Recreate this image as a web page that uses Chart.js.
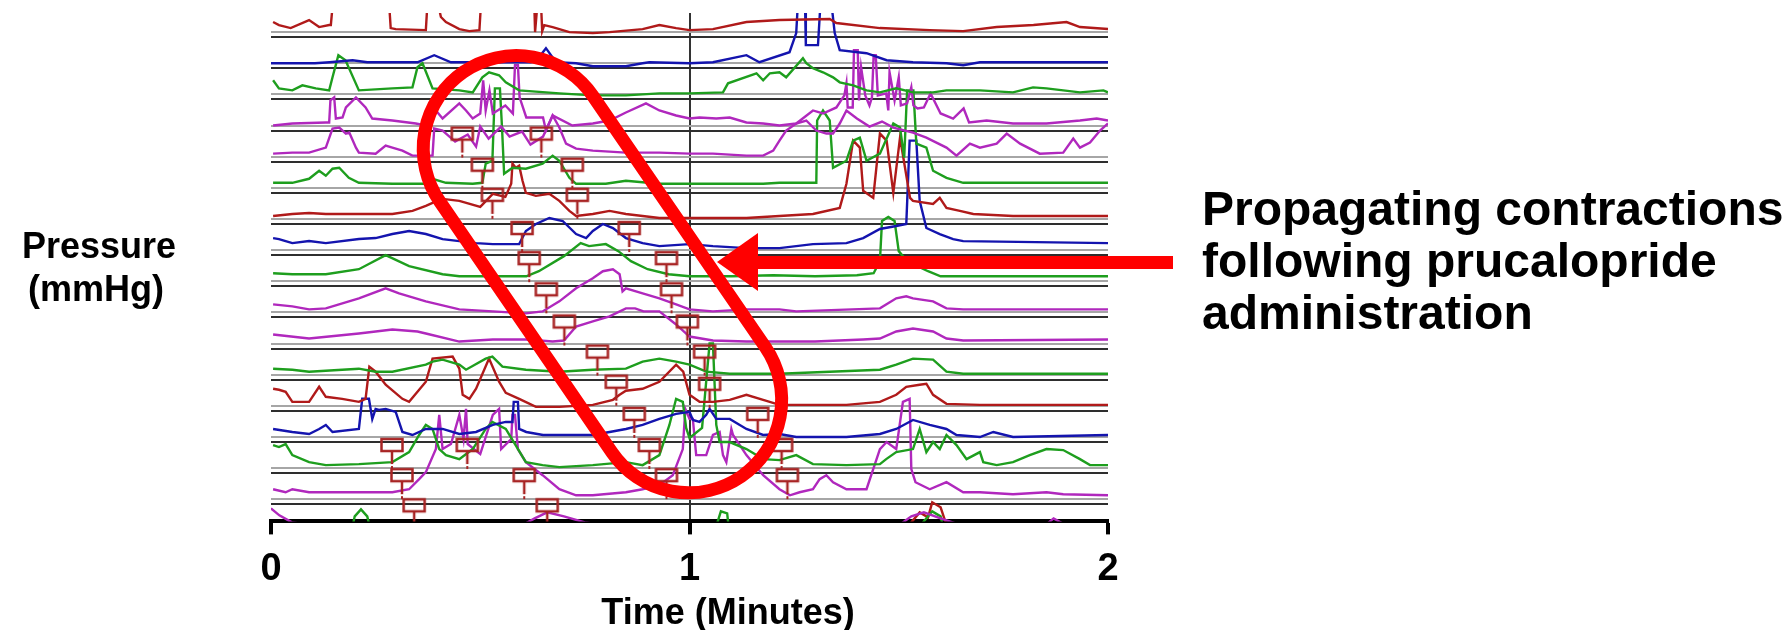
<!DOCTYPE html>
<html>
<head>
<meta charset="utf-8">
<script src="https://cdn.jsdelivr.net/npm/chart.js@4/dist/chart.umd.min.js"></script>
<style>
	html, body { margin: 0; padding: 0; background: #ffffff; }
	canvas { display: block; }
</style>
</head>
<body>
<canvas id="hrm-chart" width="1785" height="630"></canvas>
<script>
/* Tick labels of the time axis (minutes). */
const timeTicks = [0, 1, 2];

/* Pressure traces, one per sensor, as [minutes, mmHg above the sensor baseline]. */
const trace01 = [[0.005,10],[0.019,7],[0.047,4],[0.091,12],[0.115,5],[0.139,7],[0.143,7],[0.148,30],[0.282,30],[0.286,4],[0.298,3],[0.370,2],[0.374,30],[0.398,30],[0.406,15],[0.418,10],[0.45,3],[0.474,1],[0.498,2],[0.502,30],[0.629,30],[0.631,0],[0.637,30],[0.645,30],[0.648,1],[0.653,7],[0.673,5],[0.713,0],[0.769,-1],[0.809,0],[0.888,3],[0.928,7],[0.968,4],[1.0,2],[1.056,3],[1.136,10],[1.215,12],[1.335,13],[1.351,9],[1.455,4],[1.574,2],[1.654,1],[1.734,5],[1.822,7],[1.901,10],[1.933,5],[2.0,3]];
const trace02 = [[0,0],[0.105,0],[0.14,1],[0.195,3],[0.23,1],[0.35,1],[0.39,8],[0.43,1],[0.62,1],[0.633,2],[0.657,15],[0.681,1],[0.729,0],[0.769,-3],[0.848,-3],[0.888,0],[0.904,1],[1.0,0],[1.056,1],[1.136,8],[1.167,1],[1.239,11],[1.255,30],[1.259,60],[1.276,60],[1.278,18],[1.307,18],[1.313,60],[1.339,60],[1.347,30],[1.359,13],[1.423,10],[1.471,3],[1.534,1],[1.614,0],[1.654,-2],[1.694,1],[2.0,1]];
const trace03 = [[0.005,14],[0.019,6],[0.051,4],[0.075,9],[0.107,6],[0.139,4],[0.147,17],[0.161,39],[0.178,34],[0.21,4],[0.29,6],[0.338,7],[0.35,27],[0.362,31],[0.386,6],[0.45,4],[0.482,2],[0.505,17],[0.521,22],[0.545,19],[0.561,12],[0.593,4],[0.689,1],[0.769,-1],[0.848,-1],[0.928,1],[1.0,1],[1.08,2],[1.092,11],[1.16,21],[1.176,14],[1.192,21],[1.215,22],[1.231,17],[1.271,36],[1.279,31],[1.295,26],[1.319,22],[1.343,17],[1.359,12],[1.391,9],[1.423,4],[1.455,2],[1.494,6],[1.534,2],[1.582,2],[1.614,4],[1.694,4],[1.773,2],[1.821,7],[1.853,6],[1.933,2],[1.989,4],[2.0,2]];
const trace04 = [[0.005,0],[0.051,2],[0.131,3],[0.139,3],[0.142,25],[0.151,28],[0.155,7],[0.171,8],[0.179,18],[0.203,28],[0.226,18],[0.242,7],[0.29,5],[0.346,2],[0.37,0],[0.394,15],[0.41,7],[0.45,22],[0.466,15],[0.482,7],[0.5,12],[0.507,45],[0.513,15],[0.522,35],[0.53,12],[0.56,20],[0.578,12],[0.583,60],[0.59,60],[0.594,28],[0.61,8],[0.65,8],[0.657,-5],[0.673,10],[0.72,0],[0.769,2],[0.809,5],[0.848,13],[0.896,22],[0.928,15],[0.968,10],[1.0,7],[1.024,8],[1.064,7],[1.096,8],[1.136,3],[1.176,2],[1.215,0],[1.255,2],[1.295,15],[1.319,12],[1.351,18],[1.37,30],[1.375,42],[1.378,18],[1.39,18],[1.393,75],[1.402,75],[1.405,25],[1.41,58],[1.42,30],[1.43,20],[1.436,28],[1.44,70],[1.445,70],[1.45,30],[1.47,32],[1.475,15],[1.478,53],[1.49,25],[1.5,48],[1.505,20],[1.52,22],[1.53,38],[1.535,20],[1.545,17],[1.56,18],[1.576,32],[1.6,12],[1.63,7],[1.655,17],[1.668,3],[1.71,5],[1.773,2],[1.853,2],[1.933,5],[1.973,7],[2.0,5]];
const trace05 = [[0.005,3],[0.051,4],[0.091,4],[0.131,9],[0.147,28],[0.163,29],[0.179,23],[0.187,24],[0.203,9],[0.21,4],[0.25,3],[0.274,11],[0.29,9],[0.314,6],[0.338,1],[0.386,1],[0.39,28],[0.41,26],[0.44,15],[0.47,22],[0.49,10],[0.5,30],[0.52,18],[0.55,30],[0.57,20],[0.6,25],[0.62,12],[0.65,20],[0.673,41],[0.689,29],[0.705,13],[0.729,8],[0.769,6],[0.848,4],[0.928,4],[1.0,3],[1.056,3],[1.136,1],[1.176,1],[1.2,6],[1.215,16],[1.231,26],[1.255,33],[1.279,36],[1.303,26],[1.327,23],[1.343,23],[1.359,33],[1.375,46],[1.4,38],[1.43,30],[1.46,35],[1.487,29],[1.534,24],[1.566,19],[1.614,9],[1.638,1],[1.67,13],[1.694,9],[1.734,13],[1.758,23],[1.79,13],[1.837,3],[1.893,4],[1.917,18],[1.933,9],[1.957,14],[1.981,26],[2.0,33]];
const trace06 = [[0.005,5],[0.051,5],[0.091,9],[0.115,17],[0.131,12],[0.147,19],[0.163,20],[0.186,10],[0.21,5],[0.29,4],[0.37,4],[0.386,9],[0.418,5],[0.482,4],[0.505,5],[0.513,24],[0.529,27],[0.535,99],[0.547,99],[0.552,60],[0.557,14],[0.577,20],[0.609,19],[0.649,24],[0.673,32],[0.689,27],[0.713,10],[0.729,4],[0.8,4],[0.848,7],[0.928,4],[1.0,4],[1.056,4],[1.176,4],[1.215,5],[1.303,5],[1.305,67],[1.319,77],[1.335,67],[1.343,20],[1.375,27],[1.391,47],[1.407,50],[1.423,27],[1.455,34],[1.487,64],[1.503,60],[1.513,30],[1.52,97],[1.535,97],[1.542,44],[1.566,40],[1.582,17],[1.614,10],[1.654,5],[2.0,5]];
const trace07 = [[0.005,3],[0.051,5],[0.091,6],[0.131,5],[0.21,5],[0.29,5],[0.338,8],[0.37,13],[0.386,16],[0.41,20],[0.45,18],[0.5,12],[0.53,25],[0.56,22],[0.574,35],[0.577,55],[0.585,51],[0.593,53],[0.601,38],[0.609,26],[0.633,23],[0.665,25],[0.689,18],[0.713,8],[0.729,3],[0.769,5],[0.809,8],[0.848,5],[0.928,1],[1.0,1],[1.136,1],[1.215,3],[1.295,5],[1.359,11],[1.375,35],[1.391,78],[1.407,71],[1.415,28],[1.439,21],[1.455,85],[1.471,78],[1.487,26],[1.503,81],[1.511,61],[1.527,21],[1.534,18],[1.582,15],[1.598,21],[1.614,11],[1.646,8],[1.678,5],[1.773,3],[2.0,3]];
const trace08 = [[0.005,12],[0.019,11],[0.035,9],[0.051,7],[0.091,9],[0.131,7],[0.21,11],[0.25,12],[0.29,16],[0.33,19],[0.37,16],[0.41,11],[0.49,7],[0.53,6],[0.593,6],[0.609,19],[0.633,26],[0.665,32],[0.697,29],[0.729,16],[0.753,12],[0.769,19],[0.793,26],[0.817,22],[0.848,12],[0.888,7],[0.928,4],[1.0,6],[1.056,4],[1.136,2],[1.215,2],[1.295,6],[1.375,7],[1.415,12],[1.455,21],[1.494,24],[1.518,26],[1.526,109],[1.542,109],[1.55,49],[1.566,22],[1.598,16],[1.63,11],[1.654,9],[2.0,7]];
const trace09 = [[0.005,8],[0.051,7],[0.131,7],[0.21,12],[0.274,26],[0.33,15],[0.41,7],[0.45,5],[0.61,5],[0.64,10],[0.7,25],[0.74,38],[0.76,35],[0.8,37],[0.83,30],[0.86,20],[0.9,12],[0.95,7],[1.0,5],[1.1,5],[1.2,6],[1.3,5],[1.4,6],[1.44,8],[1.455,20],[1.46,60],[1.475,64],[1.49,60],[1.5,30],[1.52,20],[1.57,10],[1.6,5],[1.7,5],[2.0,5]];
const trace10 = [[0.005,8],[0.051,6],[0.091,3],[0.131,4],[0.21,14],[0.274,24],[0.306,19],[0.37,11],[0.45,3],[0.53,1],[0.609,-1],[0.649,1],[0.689,11],[0.729,24],[0.769,34],[0.793,41],[0.817,43],[0.833,38],[0.84,21],[0.848,24],[0.888,19],[0.928,14],[0.968,8],[1.0,3],[1.056,1],[1.136,3],[1.215,3],[1.255,1],[1.455,4],[1.494,14],[1.518,16],[1.534,14],[1.582,11],[1.614,4],[1.654,3],[2.0,3]];
const trace11 = [[0.005,9],[0.091,5],[0.21,10],[0.29,14],[0.35,12],[0.37,10],[0.45,2],[0.53,4],[0.609,4],[0.673,2],[0.7,3],[0.729,17],[0.769,22],[0.809,27],[0.848,35],[0.87,35],[0.89,32],[0.928,32],[0.968,19],[1.0,7],[1.056,3],[1.136,2],[1.3,2],[1.415,4],[1.455,5],[1.494,12],[1.534,15],[1.582,12],[1.614,5],[1.654,3],[2.0,4]];
const trace12 = [[0.005,6],[0.051,5],[0.091,3],[0.21,6],[0.25,3],[0.29,3],[0.37,10],[0.386,13],[0.41,15],[0.45,10],[0.466,5],[0.513,16],[0.529,18],[0.553,8],[0.609,5],[0.689,3],[0.769,5],[0.848,6],[0.888,13],[0.928,16],[0.968,13],[1.0,10],[1.04,3],[1.096,1],[1.215,1],[1.455,5],[1.494,10],[1.534,16],[1.582,15],[1.614,3],[1.654,1],[2.0,1]];
const trace13 = [[0.005,17],[0.019,16],[0.035,14],[0.051,4],[0.091,4],[0.115,19],[0.131,9],[0.17,7],[0.21,4],[0.226,7],[0.235,39],[0.25,34],[0.274,21],[0.314,7],[0.33,4],[0.37,24],[0.386,47],[0.434,49],[0.45,37],[0.458,11],[0.474,7],[0.49,17],[0.521,47],[0.545,24],[0.561,13],[0.593,7],[0.633,-1],[0.689,-1],[0.769,1],[0.817,6],[0.833,11],[0.848,15],[0.888,17],[0.928,24],[0.968,41],[0.985,34],[1.0,11],[1.024,4],[1.056,4],[1.096,6],[1.136,11],[1.176,6],[1.215,1],[1.375,1],[1.455,4],[1.494,11],[1.518,19],[1.55,21],[1.566,22],[1.582,11],[1.614,2],[1.694,1],[2.0,1]];
const trace14 = [[0.005,8],[0.051,5],[0.091,3],[0.115,8],[0.131,12],[0.147,5],[0.21,8],[0.218,38],[0.234,38],[0.242,18],[0.25,28],[0.258,27],[0.274,28],[0.298,25],[0.314,5],[0.338,2],[0.37,8],[0.41,8],[0.45,3],[0.49,5],[0.53,12],[0.561,15],[0.577,15],[0.58,35],[0.59,35],[0.593,8],[0.61,5],[0.65,2],[0.769,2],[0.809,5],[0.848,8],[0.888,12],[0.928,18],[0.968,23],[1.0,25],[1.008,17],[1.024,15],[1.04,22],[1.048,28],[1.064,18],[1.096,18],[1.136,8],[1.176,2],[1.215,3],[1.255,0],[1.375,0],[1.455,3],[1.494,8],[1.534,17],[1.574,12],[1.614,8],[1.638,2],[1.694,0],[1.726,5],[1.773,0],[2.0,2]];
const trace15 = [[0.005,23],[0.019,21],[0.035,24],[0.051,13],[0.091,6],[0.131,3],[0.21,4],[0.29,6],[0.33,16],[0.354,33],[0.37,43],[0.386,39],[0.402,19],[0.418,13],[0.45,9],[0.482,19],[0.513,39],[0.529,46],[0.561,39],[0.609,6],[0.649,3],[0.689,1],[0.769,3],[0.848,6],[0.888,3],[0.928,13],[0.952,43],[0.968,69],[0.984,66],[0.992,40],[1.0,30],[1.03,40],[1.048,124],[1.056,124],[1.064,43],[1.072,26],[1.096,26],[1.136,19],[1.176,9],[1.215,8],[1.255,13],[1.295,4],[1.375,3],[1.455,4],[1.47,9],[1.494,16],[1.534,19],[1.55,39],[1.566,16],[1.582,26],[1.598,19],[1.614,33],[1.638,23],[1.662,9],[1.694,16],[1.702,6],[1.734,3],[1.773,6],[1.813,13],[1.853,19],[1.893,18],[1.933,9],[1.957,3],[2.0,3]];
const trace16 = [[0.005,10],[0.035,7],[0.051,10],[0.091,7],[0.29,7],[0.33,10],[0.354,20],[0.37,27],[0.394,50],[0.402,84],[0.41,50],[0.43,55],[0.45,84],[0.46,60],[0.466,90],[0.47,55],[0.5,45],[0.53,84],[0.545,90],[0.55,50],[0.574,60],[0.577,84],[0.583,84],[0.59,50],[0.609,37],[0.649,24],[0.689,10],[0.729,4],[0.769,4],[0.848,7],[0.888,10],[0.928,14],[0.96,24],[0.984,50],[0.99,90],[1.0,80],[1.008,80],[1.016,44],[1.04,44],[1.056,64],[1.072,67],[1.08,44],[1.088,37],[1.1,70],[1.104,64],[1.136,44],[1.176,24],[1.215,10],[1.24,4],[1.263,7],[1.295,10],[1.311,20],[1.327,24],[1.343,17],[1.375,10],[1.423,10],[1.439,30],[1.455,50],[1.471,57],[1.494,50],[1.51,97],[1.526,100],[1.53,30],[1.54,17],[1.574,10],[1.614,17],[1.654,7],[1.694,7],[1.773,5],[1.853,7],[1.893,5],[2.0,4]];
const trace17 = [[0,22],[0.02,15],[0.05,8],[0.1,5],[0.6,5],[0.63,12],[0.66,18],[0.7,14],[0.75,8],[0.8,5],[1.2,5],[1.5,5],[1.53,14],[1.56,18],[1.6,12],[1.65,5],[1.85,5],[1.87,12],[1.9,5],[2.0,5]];
const trace18 = [[0,5],[0.18,5],[0.2,45],[0.215,52],[0.23,45],[0.25,10],[0.5,5],[1.0,5],[1.06,30],[1.075,50],[1.09,48],[1.1,10],[1.5,5],[1.55,35],[1.58,50],[1.6,45],[1.62,10],[2.0,5]];
const trace19 = [[0,5],[1.5,5],[1.53,70],[1.55,80],[1.57,75],[1.58,90],[1.6,85],[1.62,60],[1.65,5],[2.0,5]];

/* Colour of each sensor trace, top to bottom. */
const traceColours = ["red", "blue", "green", "magenta", "magenta", "green", "red", "blue", "green", "magenta", "magenta", "green", "red", "blue", "green", "magenta", "magenta", "green", "red"];

/* Marked contraction onsets: time (minutes) and level on the pressure stack. */
const markerTimes  = [0.457, 0.646, 0.505, 0.72, 0.529, 0.732, 0.6, 0.856, 0.617, 0.945, 0.658, 0.957, 0.701, 0.995, 0.78, 1.036, 0.825, 1.048, 0.868, 1.163, 0.289, 0.469, 0.904, 1.22, 0.313, 0.605, 0.945, 1.234, 0.342, 0.66];
const markerLevels = [386, 386, 355, 355, 325, 325, 292, 292, 262, 262, 231, 231, 199, 199, 169, 169, 139, 137, 107, 107, 76, 76, 76, 76, 46, 46, 46, 46, 16, 16];

const traces = [trace01, trace02, trace03, trace04, trace05, trace06, trace07, trace08, trace09, trace10, trace11, trace12, trace13, trace14, trace15, trace16, trace17, trace18, trace19];

const palette = {red: "#b01a1a", blue: "#1414ae", green: "#1e9e1e", magenta: "#b028bd"};
const channelGap = 31;
const topBaseline = 487;

/* Build the onset flag used as point style. */
function makeFlag()
{
	const c = document.createElement("canvas");
	c.width = 28;
	c.height = 56;
	const g = c.getContext("2d");
	g.strokeStyle = "#a82424";
	g.lineWidth = 2.5;
	g.strokeRect(3.5, 22, 21, 12);
	g.beginPath();
	g.moveTo(14, 34);
	g.lineTo(14, 47);
	g.stroke();
	g.fillStyle = "#a82424";
	g.fillRect(13, 49, 2, 3);
	return c;
}

/* Grid levels: a light and a dark line under every sensor. */
const gridLevels = [];
for (let k = 0; k < 16; k++)
{
	gridLevels.push({value: topBaseline - channelGap * k, light: true});
	gridLevels.push({value: topBaseline - 5 - channelGap * k, light: false});
}

const datasets = traces.map((pts, k) => ({
	label: "Sensor " + (k + 1),
	data: pts.map(([t, p]) => ({x: t, y: topBaseline - channelGap * k + p})),
	borderColor: palette[traceColours[k]],
	borderWidth: 2.4,
	pointRadius: 0,
	tension: 0,
	fill: false,
	order: 1,
}));

datasets.push({
	label: "Onsets",
	data: markerTimes.map((t, i) => ({x: t, y: markerLevels[i]})),
	showLine: false,
	pointStyle: makeFlag(),
	pointRadius: 10,
	order: 0,
});

/* Loop around the propagating sequence, ends in data units. */
const loopStart = [0.586, 371];
const loopEnd = [0.998, 121];

const overlay = {
	id: "overlay",
	afterDatasetsDraw(chart)
	{
		const ctx = chart.ctx;
		const xs = chart.scales.x;
		const ys = chart.scales.y;
		const x1 = xs.getPixelForValue(loopStart[0]);
		const y1 = ys.getPixelForValue(loopStart[1]);
		const x2 = xs.getPixelForValue(loopEnd[0]);
		const y2 = ys.getPixelForValue(loopEnd[1]);
		const a = Math.atan2(y2 - y1, x2 - x1);
		const r = 93;
		ctx.save();
		ctx.strokeStyle = "#ff0000";
		ctx.lineWidth = 13;
		ctx.beginPath();
		ctx.arc(x1, y1, r, a + Math.PI / 2, a + 3 * Math.PI / 2);
		ctx.arc(x2, y2, r, a - Math.PI / 2, a + Math.PI / 2);
		ctx.closePath();
		ctx.stroke();
		ctx.restore();
	},
	afterDraw(chart)
	{
		const ctx = chart.ctx;
		ctx.save();

		/* Arrow pointing at the loop. */
		ctx.fillStyle = "#ff0000";
		ctx.fillRect(752, 256, 421, 13);
		ctx.beginPath();
		ctx.moveTo(717, 262);
		ctx.lineTo(758, 233);
		ctx.lineTo(758, 291);
		ctx.closePath();
		ctx.fill();

		/* Texts. */
		ctx.fillStyle = "#000000";
		ctx.textBaseline = "alphabetic";
		ctx.font = "bold 48px 'Liberation Sans', Arial, sans-serif";
		ctx.textAlign = "left";
		ctx.fillText("Propagating contractions", 1202, 225);
		ctx.fillText("following prucalopride", 1202, 277);
		ctx.fillText("administration", 1202, 329);

		ctx.font = "bold 36px 'Liberation Sans', Arial, sans-serif";
		ctx.textAlign = "center";
		ctx.fillText("Pressure", 99, 258);
		ctx.fillText("(mmHg)", 96, 301);
		ctx.fillText("Time (Minutes)", 728, 624);
		ctx.restore();
	},
};

new Chart(
	document.getElementById("hrm-chart"),
	{
		type: "line",
		data: {datasets: datasets},
		plugins: [overlay],
		options:
		{
			responsive: false,
			animation: false,
			devicePixelRatio: 1,
			layout: {padding: {left: 271, right: 677, top: 13, bottom: 26}},
			plugins:
			{
				legend: {display: false},
				tooltip: {enabled: false},
			},
			scales:
			{
				x:
				{
					type: "linear",
					min: 0,
					max: 2,
					afterBuildTicks: (scale) => { scale.ticks = timeTicks.map((v) => ({value: v})); },
					ticks:
					{
						color: "#000000",
						padding: 12,
						maxRotation: 0,
						font: {family: "'Liberation Sans', Arial, sans-serif", size: 38, weight: "bold"},
						callback: (v) => String(v),
					},
					grid:
					{
						color: (c) => (c.tick && c.tick.value === 1 ? "#333333" : "rgba(0,0,0,0)"),
						lineWidth: 2,
						tickColor: "#000000",
						tickWidth: 4,
						tickLength: 13,
					},
					border: {display: true, color: "#000000", width: 4},
				},
				y:
				{
					type: "linear",
					min: 0,
					max: 506,
					afterBuildTicks: (scale) => { scale.ticks = gridLevels.map((g) => ({value: g.value})); },
					ticks: {display: false},
					grid:
					{
						color: (c) => (gridLevels[c.index] && gridLevels[c.index].light ? "#a6a6a6" : "#2e2e2e"),
						lineWidth: 2,
						drawTicks: false,
					},
					border: {display: false},
				},
			},
		},
	}
);
</script>
</body>
</html>
